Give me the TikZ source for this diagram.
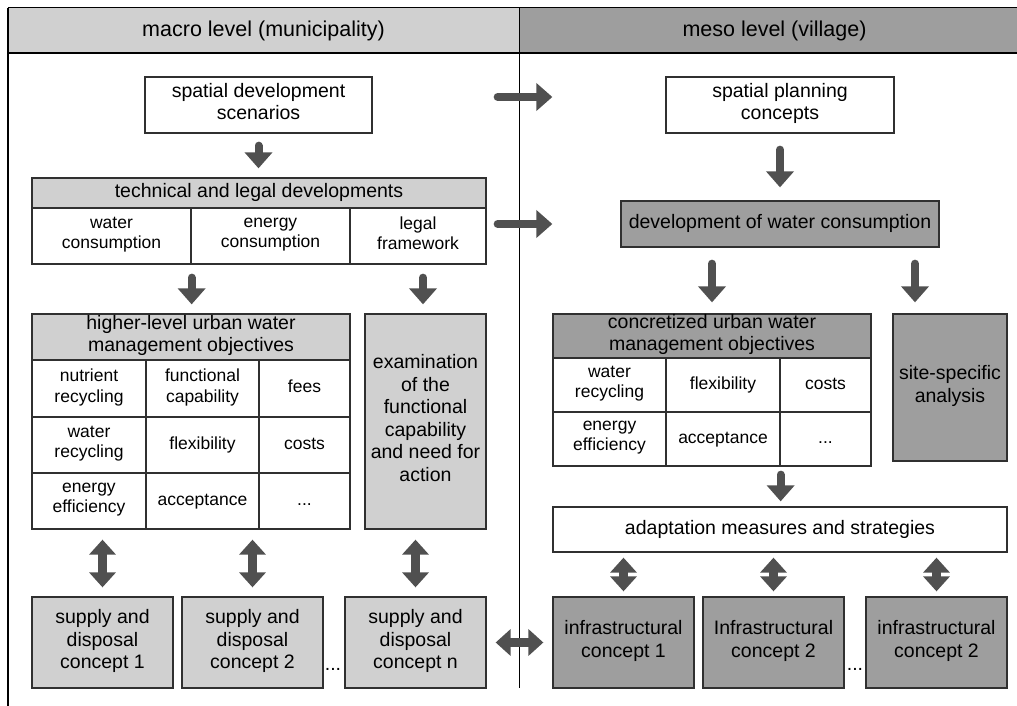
\documentclass[tikz,border=0pt]{standalone}
\usepackage{fontspec}
\setmainfont{Liberation Sans}
\usetikzlibrary{arrows.meta, positioning}

\definecolor{lightfill}{HTML}{D0D0D0}
\definecolor{darkfill}{HTML}{9E9E9E}
\definecolor{arrowfill}{HTML}{505050}
\definecolor{edge}{HTML}{303030}

\newcommand{\headfont}{\fontsize{21.5}{25}\selectfont}
\newcommand{\boxfont}{\fontsize{19.5}{22.5}\selectfont}
\newcommand{\cellfont}{\fontsize{17.5}{20.5}\selectfont}

\begin{document}
\begin{tikzpicture}[
    x=1pt, y=-1pt,
    box/.style={draw=edge, line width=1.3pt, align=center, inner sep=0pt,
                font=\boxfont, fill=white,
                execute at begin node=\strut, execute at end node=\strut},
    cell/.style={box, font=\cellfont},
    light/.style={fill=lightfill},
    dark/.style={fill=darkfill},
    head/.style={inner sep=0pt, font=\headfont, minimum height=45pt, minimum width=511pt},
    arrow/.style={draw=arrowfill, line width=8pt, line cap=round,
                  -{Triangle[width=27pt,length=16pt]}},
    dblarrow/.style={draw=arrowfill, line width=9pt,
                  {Triangle[width=26pt,length=15pt]}-{Triangle[width=26pt,length=15pt]}},
    frame/.style={draw=black, line width=1.4pt},
]
\useasboundingbox (0,0) rectangle (1017,706);

% column headers
\node[head, fill=lightfill] (macro) at (263.5,30.5) {macro level (municipality)};
\node[head, fill=darkfill]  (meso)  at (774.5,30.5) {meso level (village)};
\draw[frame] (macro.north west) -- (meso.north east);
\draw[frame] (macro.south west) -- (meso.south east);
\draw[frame] (macro.north west) -- ++(0,698);
\draw[frame] (macro.north east) -- ++(0,680);

% macro level
\node[box, minimum width=227pt, minimum height=56pt] (sds) at (258.5,105) {spatial development\\scenarios};

\node[box, light, minimum width=454pt, minimum height=30pt] (tld) at (259,193) {technical and legal developments};
\node[cell, minimum width=159pt, minimum height=56pt] (tld1) at (111.5,236) {water\\consumption};
\node[cell, minimum width=159pt, minimum height=56pt] (tld2) at (270.5,236) {energy\\consumption};
\node[cell, minimum width=136pt, minimum height=56pt] (tld3) at (418,236) {legal\\framework};

\node[box, light, minimum width=318pt, minimum height=46pt] (hl) at (191,337) {higher-level urban water\\management objectives};
\node[cell, minimum width=114pt, minimum height=57pt] (hl11) at (89,388.5) {nutrient\\recycling};
\node[cell, minimum width=113pt, minimum height=57pt] (hl12) at (202.5,388.5) {functional\\capability};
\node[cell, minimum width=91pt, minimum height=57pt] (hl13) at (304.5,388.5) {fees};
\node[cell, minimum width=114pt, minimum height=56pt] (hl21) at (89,445) {water\\recycling};
\node[cell, minimum width=113pt, minimum height=56pt] (hl22) at (202.5,445) {flexibility};
\node[cell, minimum width=91pt, minimum height=56pt] (hl23) at (304.5,445) {costs};
\node[cell, minimum width=114pt, minimum height=56pt] (hl31) at (89,501) {energy\\efficiency};
\node[cell, minimum width=113pt, minimum height=56pt] (hl32) at (202.5,501) {acceptance};
\node[cell, minimum width=91pt, minimum height=56pt] (hl33) at (304.5,501) {...};

\node[box, light, minimum width=121pt, minimum height=215pt] (exam) at (425.5,421.5)
    {examination\\of the\\functional\\capability\\and need for\\action};

\node[box, light, minimum width=141pt, minimum height=91pt] (sup1) at (102.5,642.5) {supply and\\disposal\\concept 1};
\node[box, light, minimum width=141pt, minimum height=91pt] (sup2) at (252.5,642.5) {supply and\\disposal\\concept 2};
\node[box, light, minimum width=141pt, minimum height=91pt] (supn) at (415.5,642.5) {supply and\\disposal\\concept n};
\node[font=\boxfont, inner sep=0pt, anchor=base] (dotsl) at (333,670) {...};

% meso level
\node[box, minimum width=228pt, minimum height=56pt] (sps) at (780,105) {spatial planning\\concepts};
\node[box, dark, minimum width=318pt, minimum height=46pt] (dwc) at (780,224) {development of water consumption};

\node[box, dark, minimum width=318pt, minimum height=44pt] (cz) at (712,336) {concretized urban water\\management objectives};
\node[cell, minimum width=113pt, minimum height=54pt] (cz11) at (609.5,385) {water\\recycling};
\node[cell, minimum width=114pt, minimum height=54pt] (cz12) at (723,385) {flexibility};
\node[cell, minimum width=91pt, minimum height=54pt] (cz13) at (825.5,385) {costs};
\node[cell, minimum width=113pt, minimum height=54pt] (cz21) at (609.5,439) {energy\\efficiency};
\node[cell, minimum width=114pt, minimum height=54pt] (cz22) at (723,439) {acceptance};
\node[cell, minimum width=91pt, minimum height=54pt] (cz23) at (825.5,439) {...};

\node[box, dark, minimum width=114pt, minimum height=147pt] (site) at (950,387.5) {site-specific\\analysis};

\node[box, minimum width=454pt, minimum height=45pt] (ams) at (780,529.5) {adaptation measures and strategies};

\node[box, dark, minimum width=141pt, minimum height=91pt] (inf1) at (623.5,642.5) {infrastructural\\concept 1};
\node[box, dark, minimum width=141pt, minimum height=91pt] (inf2) at (773.5,642.5) {Infrastructural\\concept 2};
\node[box, dark, minimum width=141pt, minimum height=91pt] (inf3) at (936.5,642.5) {infrastructural\\concept 2};
\node[font=\boxfont, inner sep=0pt, anchor=base] (dotsr) at (855,670) {...};

% arrows, macro level
\draw[arrow, shorten <=12pt, shorten >=9pt] (sds) -- (sds |- tld.north);
\draw[arrow, shorten <=13pt, shorten >=9pt] (tld1.south east) -- (tld1.south east |- hl.north);
\draw[arrow, shorten <=13pt, shorten >=9pt] ([xshift=-2.5pt]tld3.south -| exam.north) -- ([xshift=-2.5pt]exam.north);
\draw[dblarrow, shorten <=10pt, shorten >=9pt] (sup1.north |- hl31.south) -- (sup1.north);
\draw[dblarrow, shorten <=10pt, shorten >=9pt] (sup2.north |- hl32.south) -- (sup2.north);
\draw[dblarrow, shorten <=10pt, shorten >=9pt] (supn.north |- exam.south) -- (supn.north);

% arrows across the levels
\draw[arrow, shorten <=125pt, shorten >=113pt] ([yshift=8pt]sds.east) -- ([yshift=8pt]sps.west);
\draw[arrow, shorten <=11pt, shorten >=68pt] (tld.east |- dwc.west) -- (dwc.west);
\draw[dblarrow, shorten <=9pt, shorten >=9pt] (supn.east) -- (inf1.west);

% arrows, meso level
\draw[arrow, shorten <=16pt, shorten >=13pt] (sps) -- (sps |- dwc.north);
\draw[arrow, shorten <=16pt, shorten >=11pt] (dwc.south -| cz.north) -- (cz.north);
\draw[arrow, shorten <=16pt, shorten >=11pt] ([xshift=-35pt]site.north |- dwc.south) -- ([xshift=-35pt]site.north);
\draw[arrow, shorten <=8pt, shorten >=5pt] (cz22.south east) -- (cz22.south east |- ams.north);
\draw[dblarrow, shorten <=5pt, shorten >=5pt] (inf1.north |- ams.south) -- (inf1.north);
\draw[dblarrow, shorten <=5pt, shorten >=5pt] (inf2.north |- ams.south) -- (inf2.north);
\draw[dblarrow, shorten <=5pt, shorten >=5pt] (inf3.north |- ams.south) -- (inf3.north);

\end{tikzpicture}
\end{document}
